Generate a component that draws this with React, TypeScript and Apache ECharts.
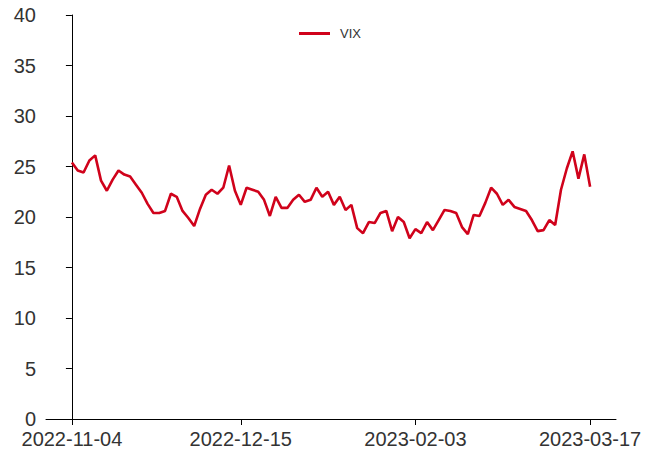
import React, { useEffect, useRef } from "react";
import * as echarts from "echarts";

// Trading dates (categories)
const dates: string[] = [
  "2022-11-04", "2022-11-07", "2022-11-08", "2022-11-09", "2022-11-10", "2022-11-11",
  "2022-11-14", "2022-11-15", "2022-11-16", "2022-11-17", "2022-11-18",
  "2022-11-21", "2022-11-22", "2022-11-23", "2022-11-24", "2022-11-25",
  "2022-11-28", "2022-11-29", "2022-11-30",
  "2022-12-01", "2022-12-02", "2022-12-05", "2022-12-06", "2022-12-07", "2022-12-08", "2022-12-09",
  "2022-12-12", "2022-12-13", "2022-12-14", "2022-12-15", "2022-12-16",
  "2022-12-19", "2022-12-20", "2022-12-21", "2022-12-22", "2022-12-23",
  "2022-12-26", "2022-12-27", "2022-12-28", "2022-12-29", "2022-12-30",
  "2023-01-03", "2023-01-04", "2023-01-05", "2023-01-06",
  "2023-01-09", "2023-01-10", "2023-01-11", "2023-01-12", "2023-01-13",
  "2023-01-16", "2023-01-17", "2023-01-18", "2023-01-19", "2023-01-20",
  "2023-01-30", "2023-01-31",
  "2023-02-01", "2023-02-02", "2023-02-03",
  "2023-02-06", "2023-02-07", "2023-02-08", "2023-02-09", "2023-02-10",
  "2023-02-13", "2023-02-14", "2023-02-15", "2023-02-16", "2023-02-17",
  "2023-02-20", "2023-02-21", "2023-02-22", "2023-02-23", "2023-02-24",
  "2023-02-27", "2023-02-28",
  "2023-03-01", "2023-03-02", "2023-03-03",
  "2023-03-06", "2023-03-07", "2023-03-08", "2023-03-09", "2023-03-10",
  "2023-03-13", "2023-03-14", "2023-03-15", "2023-03-16", "2023-03-17",
];

// VIX values
const vix: number[] = [
  25.4, 24.6, 24.4, 25.6, 26.1, 23.6, 22.6, 23.7, 24.6, 24.2,
  24.0, 23.2, 22.4, 21.3, 20.4, 20.4, 20.6, 22.3, 22.0, 20.6,
  19.9, 19.1, 20.8, 22.2, 22.7, 22.3, 22.9, 25.1, 22.6, 21.2,
  22.9, 22.7, 22.5, 21.7, 20.1, 22.0, 20.9, 20.9, 21.7, 22.2,
  21.5, 21.7, 22.9, 22.0, 22.5, 21.2, 22.0, 20.7, 21.2, 18.9,
  18.4, 19.5, 19.4, 20.4, 20.6, 18.6, 20.0, 19.5, 17.9, 18.8,
  18.4, 19.5, 18.7, 19.7, 20.7, 20.6, 20.4, 19.0, 18.3, 20.2,
  20.1, 21.4, 22.9, 22.3, 21.2, 21.7, 21.0, 20.8, 20.6, 19.7,
  18.6, 18.7, 19.7, 19.2, 22.7, 24.8, 26.5, 23.8, 26.2, 23.0,
];

// Positions (indices) of the x tick labels
const xTickIndices: number[] = [0, 29, 59, 89];

// Y axis ticks
const yMin = 0;
const yMax = 40;
const yStep = 5;

const seriesName = "VIX";

export default function App() {
  const ref = useRef<HTMLDivElement>(null);

  useEffect(() => {
    if (!ref.current) return;
    const chart = echarts.init(ref.current, undefined, { renderer: "svg" });
    const n = vix.length;
    const pad = (n - 1) * 0.05;
    const font = "Liberation Sans";
    chart.setOption({
      animation: false,
      backgroundColor: "#ffffff",
      grid: { left: 46, right: 45, top: 15, bottom: 34, containLabel: false },
      legend: {
        data: [seriesName],
        left: 294,
        top: 22,
        icon: "rect",
        itemWidth: 31,
        itemHeight: 3,
        textStyle: {
          fontFamily: font,
          fontSize: 13,
          color: "#333333",
          padding: [0, 0, 0, 5],
        },
      },
      xAxis: {
        type: "value",
        min: -pad,
        max: n - 1 + pad,
        splitLine: { show: false },
        axisLine: { show: true, onZero: false, lineStyle: { color: "#000000", width: 1 } },
        axisTick: {
          show: true,
          inside: false,
          length: 6,
          customValues: xTickIndices,
          lineStyle: { color: "#000000" },
        },
        axisLabel: {
          show: true,
          customValues: xTickIndices,
          margin: 10,
          fontFamily: font,
          fontSize: 20,
          color: "#333333",
          formatter: (v: number) => dates[Math.round(v)] ?? "",
        },
      },
      yAxis: {
        type: "value",
        min: yMin,
        max: yMax,
        interval: yStep,
        splitLine: { show: false },
        axisLine: { show: true, lineStyle: { color: "#000000", width: 1 } },
        axisTick: { show: true, inside: false, length: 6, lineStyle: { color: "#000000" } },
        axisLabel: {
          margin: 10,
          fontFamily: font,
          fontSize: 20,
          color: "#333333",
        },
      },
      series: [
        {
          name: seriesName,
          type: "line",
          data: vix.map((v, i) => [i, v]),
          showSymbol: false,
          symbol: "none",
          lineStyle: { color: "#d0021b", width: 2.6 },
          itemStyle: { color: "#d0021b" },
        },
      ],
    });
    return () => chart.dispose();
  }, []);

  return (
    <div
      ref={ref}
      style={{ position: "absolute", left: 0, top: 0, width: 661, height: 453 }}
    />
  );
}
